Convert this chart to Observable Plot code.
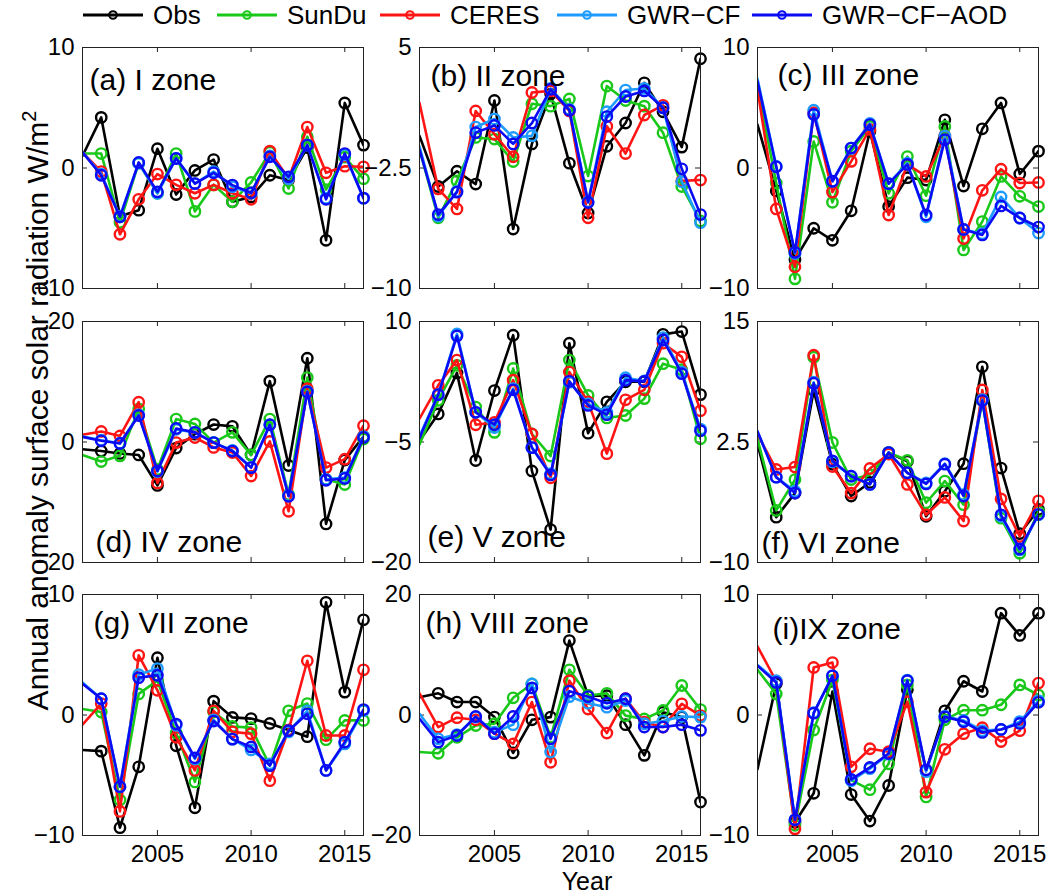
<!DOCTYPE html>
<html><head><meta charset="utf-8">
<script src="https://cdn.jsdelivr.net/npm/d3@7"></script>
<script src="https://cdn.jsdelivr.net/npm/@observablehq/plot@0.6"></script>
<style>
body{margin:0;background:#fff;font-family:"Liberation Sans",Arial,Helvetica,sans-serif;}
#wrap{position:relative;width:1053px;height:895px;overflow:hidden;background:#fff;}
.panel{position:absolute;}
.panel svg{overflow:visible;display:block;}
.leg{position:absolute;top:2px;height:26px;display:flex;align-items:center;font-size:26px;white-space:nowrap;}
.leg svg{margin-right:10px;}
#ylab{position:absolute;width:760px;text-align:center;font-size:30px;line-height:34px;transform:rotate(-90deg);transform-origin:50% 50%;white-space:nowrap;}
#xlab{position:absolute;width:200px;text-align:center;font-size:25px;line-height:28px;}
</style></head><body><div id="wrap"></div>
<script>
// ---- data ----
const years = d3.range(2001, 2017); // 2001 is the left axis limit (line enters from edge)
const seriesNames = ["Obs", "SunDu", "CERES", "GWR−CF", "GWR−CF−AOD"];
const seriesColors = ["#000000", "#19c819", "#ff1414", "#1e9bff", "#0a0af5"];
const zoneLabels = ["(a) I zone", "(b) II zone", "(c) III zone", "(d) IV zone", "(e) V zone", "(f) VI zone", "(g) VII zone", "(h) VIII zone", "(i)IX zone"];
const yDomains = [[-10, 10], [-10, 5], [-10, 10], [-20, 20], [-20, 10], [-10, 15], [-10, 10], [-20, 20], [-10, 10]];
const yTicks = [[-10, 0, 10], [-10, -2.5, 5], [-10, 0, 10], [-20, 0, 20], [-20, -5, 10], [-10, 2.5, 15], [-10, 0, 10], [-20, 0, 20], [-10, 0, 10]];
const xTicks = [2005, 2010, 2015];

const a_obs   = [1.0, 4.2, -4.0, -3.5, 1.6, -2.2, -0.2, 0.7, -2.8, -2.4, -0.6, -1.0, 1.7, -6.0, 5.4, 1.9];
const a_sundu = [1.2, 1.2, -4.5, 0.4, -2.1, 1.2, -3.6, -1.4, -2.8, -1.2, 1.3, -1.7, 2.6, -1.8, 0.9, -0.9];
const a_ceres = [1.3, -0.3, -5.5, -2.6, -0.5, -1.4, -2.1, -1.4, -2.1, -2.6, 1.4, -0.9, 3.4, -0.4, 0.15, 0.1];
const a_gwrcf = [1.3, -0.5, -4.0, 0.4, -2.1, 0.8, -1.3, -0.3, -1.55, -2.1, 1.0, -0.9, 1.9, -2.5, 1.1, -2.5];
const a_aod   = [1.3, -0.6, -4.05, 0.46, -1.98, 0.79, -1.29, -0.4, -1.42, -2.06, 0.93, -0.73, 1.9, -2.6, 1.2, -2.5];

const b_obs   = [-0.5, -3.65, -2.7, -3.5, 1.7, -6.3, -1.0, 2.1, -2.2, -5.3, -1.15, 0.3, 2.8, 1.0, -1.2, 4.3];
const b_sundu = [-1.35, -5.6, -3.3, -0.6, -0.7, -2.1, 1.5, 1.35, 1.8, -3.0, 2.6, 1.7, 1.35, -0.3, -3.65, -5.8];
const b_ceres = [1.55, -3.8, -5.05, 1.05, -0.4, -1.8, 2.2, 2.3, 1.05, -5.6, 0.1, -1.6, 0.8, 1.4, -3.3, -3.25];
const b_gwrcf = [-1.15, -5.5, -3.95, 0.05, 0.55, -0.6, -0.5, 2.45, 1.15, -4.6, 1.0, 2.35, 2.45, 1.25, -3.35, -5.9];
const b_aod   = [-1.35, -5.4, -4.0, -0.3, 0.15, -1.0, 0.3, 2.4, 1.1, -4.65, 0.7, 1.95, 2.3, 1.25, -2.55, -5.4];

const c_obs   = [3.6, -1.9, -7.6, -5.0, -6.0, -3.55, 3.05, -3.2, -0.8, -1.0, 4.0, -1.5, 3.25, 5.4, -0.5, 1.4];
const c_sundu = [6.8, -1.25, -9.2, 2.2, -2.85, 1.4, 3.45, -2.1, 0.95, -2.3, 3.45, -6.8, -4.45, -0.7, -2.35, -3.2];
const c_ceres = [6.5, -3.4, -8.2, 4.6, -2.0, 0.55, 3.2, -3.9, 0.3, -0.7, 2.65, -5.85, -1.85, -0.1, -1.25, -1.2];
const c_gwrcf = [7.4, 0.15, -7.1, 4.8, -1.1, 1.65, 3.7, -1.3, 0.4, -4.05, 2.65, -5.1, -5.45, -2.4, -4.15, -5.4];
const c_aod   = [7.2, 0.1, -7.0, 4.45, -1.1, 1.65, 3.6, -1.3, 0.3, -3.9, 2.35, -5.1, -5.55, -3.15, -4.15, -4.9];

const d_obs   = [-1.2, -1.5, -1.9, -2.15, -7.2, -1.0, 1.3, 2.9, 2.6, -2.15, 10.1, -3.9, 13.9, -13.6, -3.0, 0.9];
const d_sundu = [-2.15, -3.25, -2.3, 5.5, -4.55, 3.8, 3.0, -0.1, 1.6, -2.15, 3.8, -8.7, 10.7, -6.2, -7.05, 0.5];
const d_ceres = [1.2, 1.75, 1.0, 6.6, -6.8, -0.1, 0.75, -0.9, -1.75, -5.65, 0.1, -11.5, 8.85, -4.25, -2.85, 2.7];
const d_gwrcf = [0.9, 0.3, -0.2, 4.5, -4.9, 2.1, 1.6, -0.1, -1.4, -4.2, 2.9, -8.9, 8.4, -6.2, -5.9, 0.9];
const d_aod   = [0.85, 0.2, -0.25, 4.4, -4.8, 2.25, 1.6, -0.1, -1.5, -4.25, 2.85, -9.0, 8.3, -6.35, -6.05, 0.75];

const e_obs   = [-4.85, -1.5, 3.6, -7.3, 1.4, 8.3, -8.6, -15.9, 7.3, -3.9, 0.0, 2.5, 2.5, 8.4, 8.75, 0.9];
const e_sundu = [-5.3, 0.2, 4.55, -0.65, -3.8, 4.15, -4.0, -6.75, 5.2, 0.8, -2.0, -1.7, 0.4, 4.75, 4.0, -4.6];
const e_ceres = [-2.1, 2.05, 5.2, -2.85, -2.55, 2.7, -4.0, -9.45, 3.7, 0.0, -6.45, 0.25, 1.5, 7.3, 5.6, -1.1];
const e_gwrcf = [-4.25, 0.9, 8.45, -1.3, -3.2, 1.65, -5.7, -8.95, 2.45, -0.25, -1.3, 3.0, 2.6, 8.0, 3.7, -3.4];
const e_aod   = [-4.5, 0.9, 8.2, -1.3, -2.85, 1.5, -5.7, -9.1, 2.55, -0.45, -1.6, 2.7, 2.55, 7.7, 3.5, -3.6];

const f_obs   = [2.3, -5.3, -2.8, 7.85, 0.2, -3.1, -1.7, 1.4, 0.5, -5.2, -2.6, 0.25, 10.3, -0.2, -7.0, -4.5];
const f_sundu = [2.8, -4.6, -1.4, 11.3, 2.45, -1.4, -0.9, 1.4, 0.6, -3.8, -1.55, -4.0, 6.8, -5.4, -9.05, -4.7];
const f_ceres = [3.3, -0.35, -0.1, 11.5, -0.05, -2.8, -0.25, 1.25, -1.9, -5.05, -3.25, -5.7, 7.9, -3.4, -7.3, -3.6];
const f_gwrcf = [3.6, -1.15, -2.6, 8.7, 0.45, -1.05, -1.9, 1.4, -0.7, -1.75, 0.25, -2.95, 6.9, -5.2, -8.7, -5.05];
const f_aod   = [3.6, -1.15, -2.8, 8.6, 0.55, -1.05, -1.9, 1.4, -0.7, -1.85, 0.2, -3.1, 6.8, -5.05, -8.6, -5.0];

const g_obs   = [-2.9, -3.0, -9.35, -4.3, 4.75, -2.55, -7.7, 1.15, -0.2, -0.3, -0.7, -1.25, -1.8, 9.35, 1.9, 7.9];
const g_sundu = [0.5, 0.25, -7.05, 1.75, 2.85, -1.5, -5.55, 0.25, -0.95, -1.05, -4.2, 0.35, 0.95, -2.05, -0.45, -0.45];
const g_ceres = [-0.8, 0.95, -8.0, 4.95, 2.05, -1.85, -4.6, 0.35, -1.4, -1.55, -5.45, -1.25, 4.5, -1.7, -1.7, 3.75];
const g_gwrcf = [2.7, 1.35, -5.95, 3.35, 3.85, -0.85, -3.65, -0.4, -2.0, -2.9, -4.05, -1.4, 0.35, -4.6, -2.4, 0.35];
const g_aod   = [2.6, 1.35, -5.95, 3.1, 3.3, -0.75, -3.55, -0.5, -2.0, -2.65, -4.2, -1.3, 0.1, -4.6, -2.25, 0.45];

const h_obs   = [2.95, 3.6, 2.15, 2.15, -0.35, -6.3, -0.8, -0.35, 12.35, 3.2, 3.2, -1.6, -6.7, 0.45, -0.35, -14.45];
const h_sundu = [-6.15, -6.35, -3.7, -1.75, -1.45, 2.85, 5.15, -3.7, 7.5, 3.25, 3.6, -0.1, -0.65, 0.75, 4.9, 0.9];
const h_ceres = [3.6, -2.0, -0.45, -0.8, -3.1, -4.8, 2.15, -7.85, 5.7, 1.0, -3.0, 2.7, -1.2, -2.0, 1.85, -0.1];
const h_gwrcf = [0.2, -3.95, -3.25, -0.35, -2.85, -1.6, 5.15, -6.15, 3.05, 1.95, 1.3, 2.4, -1.45, -1.0, -0.25, -0.35];
const h_aod   = [-0.65, -4.5, -3.4, -0.25, -3.1, -0.25, 4.5, -3.95, 3.95, 3.05, 1.95, 2.7, -2.0, -2.0, -1.6, -2.55];

const i_obs   = [-4.5, 2.6, -8.9, -6.5, 1.95, -6.6, -8.8, -5.85, 2.1, -4.6, 0.35, 2.8, 1.95, 8.45, 6.6, 8.45];
const i_sundu = [3.75, 1.75, -9.15, -1.25, 2.9, -5.4, -6.2, -4.05, 2.5, -6.8, -0.4, 0.4, 0.4, 0.85, 2.5, 1.65];
const i_ceres = [5.7, 2.8, -9.45, 3.95, 4.35, -4.3, -2.8, -3.05, 1.1, -6.4, -2.85, -1.55, -1.05, -2.2, -1.3, 2.65];
const i_gwrcf = [4.15, 2.85, -8.7, 0.2, 3.25, -5.45, -4.45, -3.25, 2.9, -4.7, -0.1, -0.45, -1.3, -1.2, -0.55, 1.2];
const i_aod   = [4.1, 2.7, -8.7, 0.15, 3.25, -5.35, -4.35, -3.2, 2.85, -4.55, -0.15, -0.55, -1.45, -1.2, -0.7, 1.05];

const zoneSeries = [
  [a_obs, a_sundu, a_ceres, a_gwrcf, a_aod],
  [b_obs, b_sundu, b_ceres, b_gwrcf, b_aod],
  [c_obs, c_sundu, c_ceres, c_gwrcf, c_aod],
  [d_obs, d_sundu, d_ceres, d_gwrcf, d_aod],
  [e_obs, e_sundu, e_ceres, e_gwrcf, e_aod],
  [f_obs, f_sundu, f_ceres, f_gwrcf, f_aod],
  [g_obs, g_sundu, g_ceres, g_gwrcf, g_aod],
  [h_obs, h_sundu, h_ceres, h_gwrcf, h_aod],
  [i_obs, i_sundu, i_ceres, i_gwrcf, i_aod]
];

// ---- layout ----
const colLeft = [82, 419, 757];
const rowTop = [47, 321, 594];
const IW = 281, IH = 241;
const ML = 70, MR = 12, MT = 15;
const titleAnchor = ["top-left", "top-left", "top-left", "bottom-left", "bottom-left", "bottom-left", "top-left", "top-left", "top-left"];
const titleDx = [7, 11, 20, 13, 8, 4, 11, 6, 15];
const titleDy = [42, 38, 37, -11, -16, -10, 38, 38, 44];
const FONT = "'Liberation Sans', Arial, Helvetica, sans-serif";
const fmt = d => (d < 0 ? "\u2212" + Math.abs(d) : String(d));

const wrap = document.getElementById("wrap");

zoneSeries.forEach((series, z) => {
  const col = z % 3, row = Math.floor(z / 3);
  const MB = row === 2 ? 45 : 15;
  const rows = [];
  series.forEach((vals, s) => vals.forEach((v, k) => rows.push({series: seriesNames[s], year: years[k], value: v})));
  const marks = [
    Plot.ruleX(xTicks, {stroke: "#222", strokeWidth: 1, insetTop: IH - 5}),
    Plot.ruleX(xTicks, {stroke: "#222", strokeWidth: 1, insetBottom: IH - 5}),
    Plot.ruleY(yTicks[z], {stroke: "#222", strokeWidth: 1, insetRight: IW - 5}),
    Plot.ruleY(yTicks[z], {stroke: "#222", strokeWidth: 1, insetLeft: IW - 5})
  ];
  seriesNames.forEach(name => {
    const sd = rows.filter(d => d.series === name);
    marks.push(Plot.line(sd, {x: "year", y: "value", stroke: "series", strokeWidth: 2.6, clip: true}));
    marks.push(Plot.dot(sd.filter(d => d.year > 2001), {x: "year", y: "value", stroke: "series", r: 5.2, strokeWidth: 2.4, fill: "none"}));
  });
  marks.push(Plot.frame({stroke: "#222", strokeWidth: 1}));
  marks.push(Plot.axisY(yTicks[z], {label: null, tickSize: 0, tickPadding: 8, fontSize: 24, tickFormat: fmt, fill: "#000"}));
  if (row === 2) marks.push(Plot.axisX(xTicks, {label: null, tickSize: 0, tickPadding: 9.5, fontSize: 24, tickFormat: d => String(d), fill: "#000"}));
  marks.push(Plot.text([zoneLabels[z]], {text: d => d, frameAnchor: titleAnchor[z], dx: titleDx[z], dy: titleDy[z], textAnchor: "start", lineAnchor: "bottom", fontSize: 30, fill: "#000"}));

  const chart = Plot.plot({
    width: ML + IW + MR, height: MT + IH + MB,
    marginLeft: ML, marginRight: MR, marginTop: MT, marginBottom: MB,
    x: {domain: [2001, 2016], axis: null, label: null},
    y: {domain: yDomains[z], axis: null, label: null},
    color: {domain: seriesNames, range: seriesColors},
    style: {background: "transparent", overflow: "visible", fontFamily: FONT, fontSize: "24px", color: "#000"},
    marks
  });
  const div = document.createElement("div");
  div.className = "panel";
  div.style.left = (colLeft[col] - ML) + "px";
  div.style.top = (rowTop[row] - MT) + "px";
  div.appendChild(chart);
  wrap.appendChild(div);
});

// ---- legend ----
const legLeft = [83, 217, 380, 557, 752];
seriesNames.forEach((name, s) => {
  const item = document.createElement("div");
  item.className = "leg";
  item.style.left = legLeft[s] + "px";
  item.innerHTML = `<svg width="60" height="20"><line x1="0" y1="10" x2="60" y2="10" stroke="${seriesColors[s]}" stroke-width="3"/><circle cx="30" cy="10" r="3.8" fill="none" stroke="${seriesColors[s]}" stroke-width="2"/></svg><span>${name}</span>`;
  wrap.appendChild(item);
});

// ---- axis titles ----
const ylab = document.createElement("div");
ylab.id = "ylab";
ylab.innerHTML = "Annual anomaly surface solar radiation W/m<sup style='font-size:20px;vertical-align:12px'>2</sup>";
ylab.style.left = (33 - 380) + "px";
ylab.style.top = (406 - 17) + "px";
wrap.appendChild(ylab);

const xlab = document.createElement("div");
xlab.id = "xlab";
xlab.textContent = "Year";
xlab.style.left = (587 - 100) + "px";
xlab.style.top = "867px";
wrap.appendChild(xlab);
</script>
</body></html>
